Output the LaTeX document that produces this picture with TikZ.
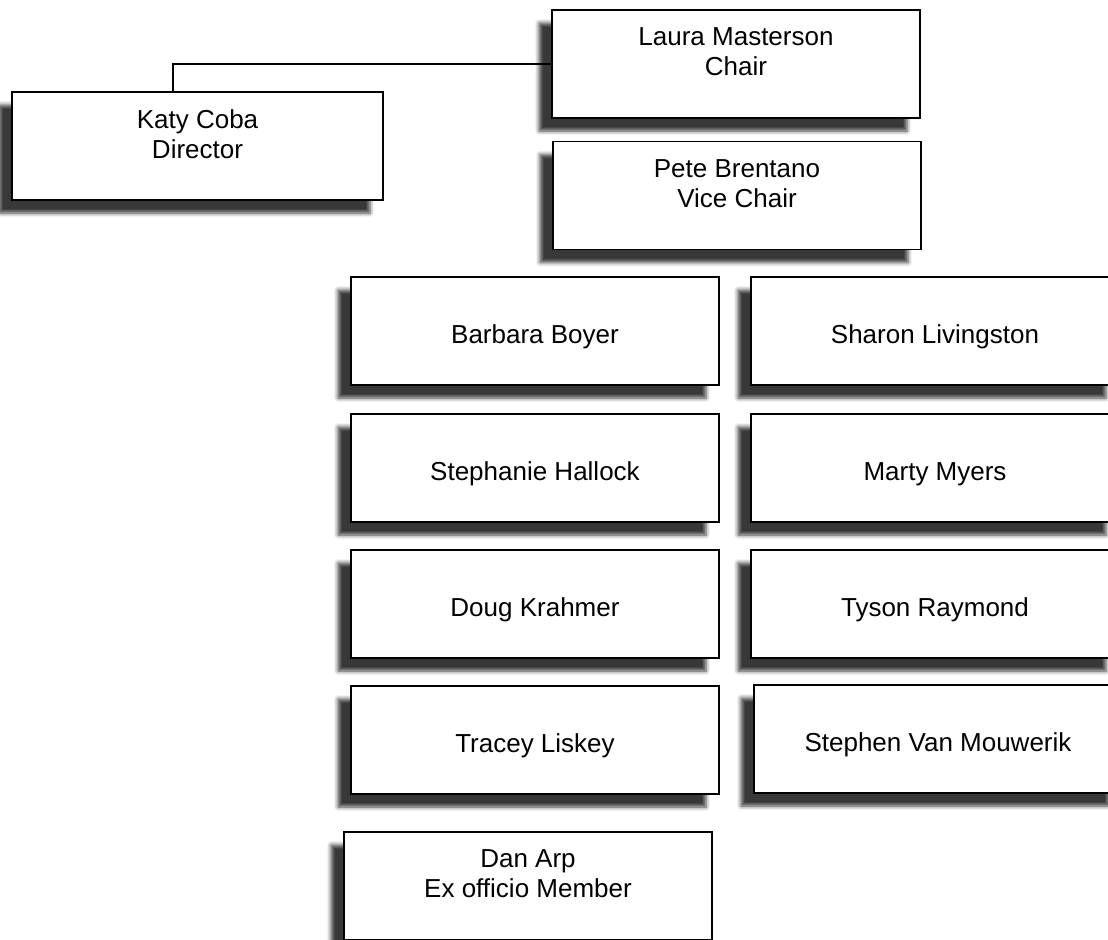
\documentclass[tikz,border=0pt]{standalone}
\usepackage{fontspec}
\setmainfont{Liberation Sans}
\usetikzlibrary{shadows.blur}

\tikzset{
  x=0.75pt, y=-0.75pt,
  member/.style={
    draw=black, line width=1.1pt, fill=white, rectangle,
    minimum width=276pt, minimum height=81pt, inner sep=0pt,
    font=\fontsize{19.5pt}{22.5pt}\selectfont,
    blur shadow={shadow xshift=-9.75pt, shadow yshift=-9.75pt,
                 shadow blur radius=3pt, shadow opacity=78}},
  oneline/.style={member, text height=18pt, text depth=0pt},
  twoline/.style={member, align=center},
  link/.style={draw=black, line width=1pt}
}

\begin{document}
\begin{tikzpicture}
  \useasboundingbox (0,0) rectangle (1108,940);

  % officers
  \node[twoline] (laura) at (736,64) {Laura Masterson\\Chair\\[-4.5pt]\mbox{}};
  \node[twoline, minimum width=278.25pt] (katy) at (197.5,146) {Katy Coba\\Director\\[-4.5pt]\mbox{}};
  \node[twoline] (pete) at (737,195.5) {Pete Brentano\\Vice Chair\\[-4.5pt]\mbox{}};

  % members, two columns
  \node[oneline] (barbara)   at (535,331) {Barbara Boyer};
  \node[oneline] (sharon)    at (935,331) {Sharon Livingston};
  \node[oneline] (stephanie) at (535,468) {Stephanie Hallock};
  \node[oneline] (marty)     at (935,468) {Marty Myers};
  \node[oneline] (doug)      at (535,604) {Doug Krahmer};
  \node[oneline] (tyson)     at (935,604) {Tyson Raymond};
  \node[oneline] (tracey)    at (535,740) {Tracey Liskey};
  \node[oneline] (stephen)   at (938,739) {Stephen Van Mouwerik};

  % ex officio
  \node[twoline] (dan) at (528,886) {Dan Arp\\Ex officio Member\\[-4.5pt]\mbox{}};

  % director reports to the chair
  \coordinate (katytop) at ([xshift=-18.4pt]katy.north);
  \draw[link] (laura.west) -| (katytop);
\end{tikzpicture}
\end{document}
